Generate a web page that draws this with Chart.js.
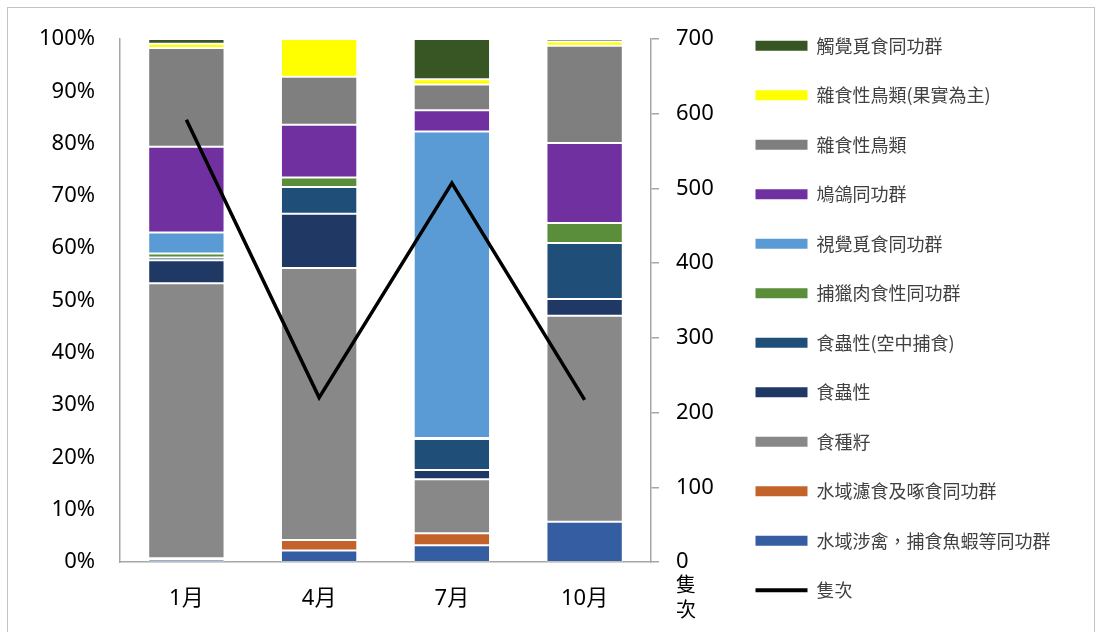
<!DOCTYPE html>
<html>
<head>
<meta charset="utf-8">
<script src="https://cdn.jsdelivr.net/npm/chart.js@4/dist/chart.umd.min.js"></script>
<style>
  html, body { margin: 0; padding: 0; background: #fff; }
  #wrap { position: relative; width: 1099px; height: 632px; overflow: hidden; }
  #frame { position: absolute; left: 7px; top: 7px; width: 1088px; height: 700px; border: 1.5px solid #c3c3c3; box-sizing: border-box; pointer-events: none; }
  canvas { position: absolute; left: 0; top: 0; }
</style>
</head>
<body>
<div id="wrap">
  <canvas id="c" width="1099" height="632"></canvas>
  <div id="frame"></div>
</div>
<script>
// ---- data ----
const months = ['1月', '4月', '7月', '10月'];

// stacked percentages (bottom to top)
const waderFish      = [0.5, 2.2, 3.2, 7.7];   // 水域涉禽，捕食魚蝦等同功群
const waterFilter    = [0.2, 2.0, 2.3, 0.0];   // 水域濾食及啄食同功群
const seedEaters     = [52.6, 52.0, 10.3, 39.4]; // 食種籽
const insectivores   = [4.4, 10.4, 1.8, 3.2];  // 食蟲性
const aerialInsect   = [0.5, 5.1, 5.9, 10.7];  // 食蟲性(空中捕食)
const raptors        = [0.8, 1.8, 0.2, 3.8];   // 捕獵肉食性同功群
const visualForagers = [4.0, 0.0, 58.6, 0.0];  // 視覺覓食同功群
const pigeons        = [16.4, 10.1, 4.1, 15.3]; // 鳩鴿同功群
const omnivores      = [18.9, 9.2, 4.9, 18.6]; // 雜食性鳥類
const omniFruit      = [0.8, 7.2, 1.0, 0.8];   // 雜食性鳥類(果實為主)
const tactileForagers= [0.9, 0.0, 7.7, 0.5];   // 觸覺覓食同功群

// line (right axis)
const counts = [592, 220, 507, 217];           // 隻次

// tick labels
const pctTicks = ['0%', '10%', '20%', '30%', '40%', '50%', '60%', '70%', '80%', '90%', '100%'];
const countTicks = ['0', '100', '200', '300', '400', '500', '600', '700'];
const rightTitle = ['隻', '次'];

const FONT = "'Noto Sans', 'Noto Sans CJK TC', sans-serif";
Chart.defaults.font.family = FONT;

function bar(label, data, color) {
  return {
    type: 'bar', label, data, backgroundColor: color,
    borderColor: 'rgba(255,255,255,0.25)', borderWidth: 1, borderSkipped: false,
    stack: 's', xAxisID: 'x', yAxisID: 'y', order: 1,
    categoryPercentage: 1.0, barPercentage: 0.575
  };
}

const datasets = [
  {
    type: 'line', label: '隻次', data: counts, borderColor: '#000', backgroundColor: '#000',
    borderWidth: 3.5, pointRadius: 0, pointHoverRadius: 0, tension: 0,
    xAxisID: 'x', yAxisID: 'y2', order: 0
  },
  bar('水域涉禽，捕食魚蝦等同功群', waderFish, '#355EA2'),
  bar('水域濾食及啄食同功群', waterFilter, '#C4622C'),
  bar('食種籽', seedEaters, '#888888'),
  bar('食蟲性', insectivores, '#203864'),
  bar('食蟲性(空中捕食)', aerialInsect, '#1F4E78'),
  bar('捕獵肉食性同功群', raptors, '#5A8E3A'),
  bar('視覺覓食同功群', visualForagers, '#5B9BD5'),
  bar('鳩鴿同功群', pigeons, '#7030A0'),
  bar('雜食性鳥類', omnivores, '#7F7F7F'),
  bar('雜食性鳥類(果實為主)', omniFruit, '#FFFF00'),
  bar('觸覺覓食同功群', tactileForagers, '#375623')
];

const rightTitlePlugin = {
  id: 'rightTitle',
  afterDraw(chart) {
    const s = chart.scales.y2;
    const ctx = chart.ctx;
    ctx.save();
    ctx.fillStyle = '#000';
    ctx.font = "20px 'Noto Sans CJK TC', sans-serif";
    ctx.textAlign = 'center';
    ctx.textBaseline = 'middle';
    const x = s.left + s.options.grid.tickLength + s.options.ticks.padding + 10;
    rightTitle.forEach((t, i) => ctx.fillText(t, x, s.bottom + 22 + i * 25));
    ctx.restore();
  }
};

// widen the legend box beyond the default layout cap
const legendWidthPlugin = {
  id: 'legendWidth',
  beforeLayout(chart) {
    const lg = chart.legend;
    if (lg && !lg._wide) {
      const orig = lg.fit.bind(lg);
      lg.fit = function () { orig(); this.width = 375; };
      lg._wide = true;
    }
  }
};

new Chart(document.getElementById('c'), {
  data: { labels: months, datasets },
  plugins: [legendWidthPlugin, rightTitlePlugin],
  options: {
    responsive: false,
    animation: false,
    layout: { padding: { top: 4, right: 0, bottom: 0, left: 0 } },
    plugins: {
      tooltip: { enabled: false },
      legend: {
        position: 'right',
        align: 'center',
        labels: {
          usePointStyle: true,
          pointStyleWidth: 52,
          boxWidth: 52,
          boxHeight: 10,
          padding: 31.5,
          color: '#404040',
          font: { size: 18, family: "'Noto Sans CJK TC', sans-serif" },
          generateLabels(chart) {
            const items = Chart.defaults.plugins.legend.labels.generateLabels(chart);
            items.forEach(it => {
              const ds = chart.data.datasets[it.datasetIndex];
              if (ds.type === 'line') {
                it.pointStyle = 'line'; it.lineWidth = 4; it.strokeStyle = '#000'; it.fillStyle = '#000';
              } else {
                it.pointStyle = 'rect'; it.lineWidth = 0;
              }
              it.fontColor = '#404040';
            });
            return items;
          },
          sort(a, b) {
            const la = a.datasetIndex === 0 ? -1 : a.datasetIndex;
            const lb = b.datasetIndex === 0 ? -1 : b.datasetIndex;
            if (la === -1) return 1;
            if (lb === -1) return -1;
            return lb - la;
          }
        }
      }
    },
    scales: {
      xTop: {
        type: 'category', position: 'top', display: true,
        grid: { display: false }, border: { display: false }, ticks: { display: false },
        afterFit(s) { s.height = 35; }
      },
      x: {
        type: 'category', position: 'bottom', offset: true,
        grid: { display: false, drawTicks: false },
        border: { display: true, color: '#a6a6a6', width: 1.5 },
        ticks: { color: '#000', font: { size: 22 }, padding: 24 },
        afterFit(s) { s.height = 70; }
      },
      y: {
        type: 'linear', position: 'left', stacked: true, min: 0, max: 100,
        grid: { display: false, drawTicks: false },
        border: { display: true, color: '#a6a6a6', width: 1.5 },
        ticks: {
          stepSize: 10, color: '#000', font: { size: 22 }, padding: 25,
          callback: (v, i) => pctTicks[i]
        },
        afterFit(s) { s.width = 120; }
      },
      y2: {
        type: 'linear', position: 'right', min: 0, max: 700,
        grid: { display: true, drawOnChartArea: false, drawTicks: true, tickLength: 8, color: '#a6a6a6', lineWidth: 1.5 },
        border: { display: true, color: '#a6a6a6', width: 1.5 },
        ticks: {
          stepSize: 100, color: '#000', font: { size: 22 }, padding: 17,
          callback: (v, i) => countTicks[i]
        },
        afterFit(s) { s.width = 73; }
      }
    }
  }
});
</script>
</body>
</html>
